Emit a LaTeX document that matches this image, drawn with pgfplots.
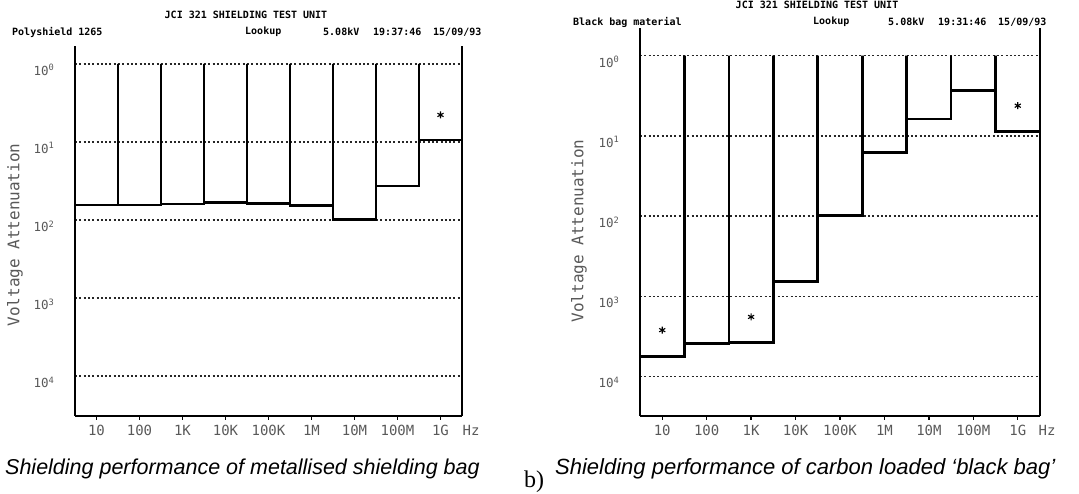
\documentclass[border=0pt]{standalone}
\usepackage{pgfplots}
\pgfplotsset{compat=1.18}
\usepackage{fontspec}
\setmainfont{Liberation Sans}
\newfontfamily\mono{DejaVu Sans Mono}
\newfontfamily\serif{Liberation Serif}
\definecolor{lab}{gray}{0.35}

\begin{document}
\begin{tikzpicture}
\useasboundingbox (0,0) rectangle (1079pt,493pt);

% ---------- left panel: metallised shielding bag ----------
\begin{axis}[ymode=log, y dir=reverse,
  at={(75pt,77pt)}, anchor=south west, scale only axis,
  width=387pt, height=370pt, ymin=0.589, ymax=32360,
  xmin=0.5, xmax=9.5, clip=false,
  axis x line*=bottom, axis y line*=box,
  x axis line style={-}, y axis line style={-},
  axis line style={line width=2.7pt, black},
  xtick={1,2,3,4,5,6,7,8,9},
  xticklabels={10,100,1K,10K,100K,1M,10M,100M,1G},
  ytick={1,10,100,1000,10000},
  yticklabels={10\textsuperscript{0},10\textsuperscript{1},10\textsuperscript{2},10\textsuperscript{3},10\textsuperscript{4}},
  tick align=outside, major tick length=4pt,
  xtick style={black, line width=1.4pt},
  ytick style={draw=none},
  ymajorgrids,
  major grid style={black!85, line width=1.4pt, dash pattern=on 2pt off 2.3pt},
  xticklabel style={font=\mono\fontsize{14}{14}\selectfont, text=lab, yshift=-2pt},
  yticklabel style={font=\mono\fontsize{12.5}{12.5}\selectfont, text=lab, xshift=-13pt, yshift=-6pt}]
\addplot[black, line width=2.7pt, line join=miter, mark=none] coordinates {
 (0.5,1) (0.5,64.2) (1.5,64.2) (1.5,1)
 (1.5,64.2) (2.5,64.2) (2.5,1)
 (2.5,62.4) (3.5,62.4) (3.5,1)
 (3.5,59.3) (4.5,59.3) (4.5,1)
 (4.5,61.8) (5.5,61.8) (5.5,1)
 (5.5,65.6) (6.5,65.6) (6.5,1)
 (6.5,98) (7.5,98) (7.5,1)
 (7.5,36.6) (8.5,36.6) (8.5,1)
 (8.5,9.4) (9.5,9.4) (9.5,1)
};
\addplot[only marks, mark=asterisk, mark size=3.5pt, black, line width=1.1pt] coordinates {(9,4.5)};
\end{axis}

% ---------- right panel: carbon loaded black bag ----------
\begin{axis}[ymode=log, y dir=reverse,
  at={(640pt,77pt)}, anchor=south west, scale only axis,
  width=400pt, height=388pt, ymin=0.452, ymax=30900,
  xmin=0.5, xmax=9.5, clip=false,
  axis x line*=bottom, axis y line*=box,
  x axis line style={-}, y axis line style={-},
  axis line style={line width=2.7pt, black},
  xtick={1,2,3,4,5,6,7,8,9},
  xticklabels={10,100,1K,10K,100K,1M,10M,100M,1G},
  ytick={1,10,100,1000,10000},
  yticklabels={10\textsuperscript{0},10\textsuperscript{1},10\textsuperscript{2},10\textsuperscript{3},10\textsuperscript{4}},
  tick align=outside, major tick length=4pt,
  xtick style={black, line width=1.4pt},
  ytick style={draw=none},
  ymajorgrids,
  major grid style={black!85, line width=1.4pt, dash pattern=on 2pt off 2.3pt},
  xticklabel style={font=\mono\fontsize{14}{14}\selectfont, text=lab, yshift=-2pt},
  yticklabel style={font=\mono\fontsize{12.5}{12.5}\selectfont, text=lab, xshift=-13pt, yshift=-6pt}]
\addplot[black, line width=2.7pt, line join=miter, mark=none] coordinates {
 (0.5,1) (0.5,5550) (1.5,5550) (1.5,1)
 (1.5,3850) (2.5,3850) (2.5,1)
 (2.5,3750) (3.5,3750) (3.5,1)
 (3.5,658) (4.5,658) (4.5,1)
 (4.5,99) (5.5,99) (5.5,1)
 (5.5,16) (6.5,16) (6.5,1)
 (6.5,6.15) (7.5,6.15) (7.5,1)
 (7.5,2.73) (8.5,2.73) (8.5,1)
 (8.5,8.87) (9.5,8.87) (9.5,1)
};
\addplot[only marks, mark=asterisk, mark size=3.5pt, black, line width=1.1pt] coordinates {(1,2630) (3,1800) (9,4.2)};
\end{axis}

% ---------- headers ----------
\begin{scope}[x=1pt, y=1pt, every node/.style={inner sep=0pt, font=\mono\bfseries\fontsize{10}{10}\selectfont}]
\node at (246,478) {JCI 321 SHIELDING TEST UNIT};
\node[anchor=west] at (12,461) {Polyshield 1265};
\node[anchor=west] at (245,461) {Lookup};
\node[anchor=west] at (323,461) {5.08kV};
\node[anchor=west] at (373,461) {19:37:46};
\node[anchor=west] at (433,461) {15/09/93};

\node at (817,488) {JCI 321 SHIELDING TEST UNIT};
\node[anchor=west] at (573,471) {Black bag material};
\node[anchor=west] at (813,471) {Lookup};
\node[anchor=west] at (888,471) {5.08kV};
\node[anchor=west] at (938,471) {19:31:46};
\node[anchor=west] at (998,471) {15/09/93};
\end{scope}

% ---------- axis titles ----------
\begin{scope}[x=1pt, y=1pt, every node/.style={inner sep=0pt, text=lab, font=\mono\fontsize{16}{16}\selectfont}]
\node[rotate=90] at (15,258) {Voltage Attenuation};
\node[rotate=90] at (579,262) {Voltage Attenuation};
\node at (471,63) {\fontsize{14}{14}\selectfont Hz};
\node at (1047,63) {\fontsize{14}{14}\selectfont Hz};
\end{scope}

% ---------- captions ----------
\begin{scope}[x=1pt, y=1pt]
\node[anchor=west, inner sep=0pt, font=\itshape\fontsize{21.5}{21.5}\selectfont] at (5,24)
  {Shielding performance of metallised shielding bag};
\node[anchor=west, inner sep=0pt, font=\itshape\fontsize{22}{22}\selectfont] at (555,24)
  {Shielding performance of carbon loaded ‘black bag’};
\node[anchor=base west, inner sep=0pt, font=\serif\fontsize{24}{24}\selectfont] at (524,6) {b)};
\end{scope}
\end{tikzpicture}
\end{document}
